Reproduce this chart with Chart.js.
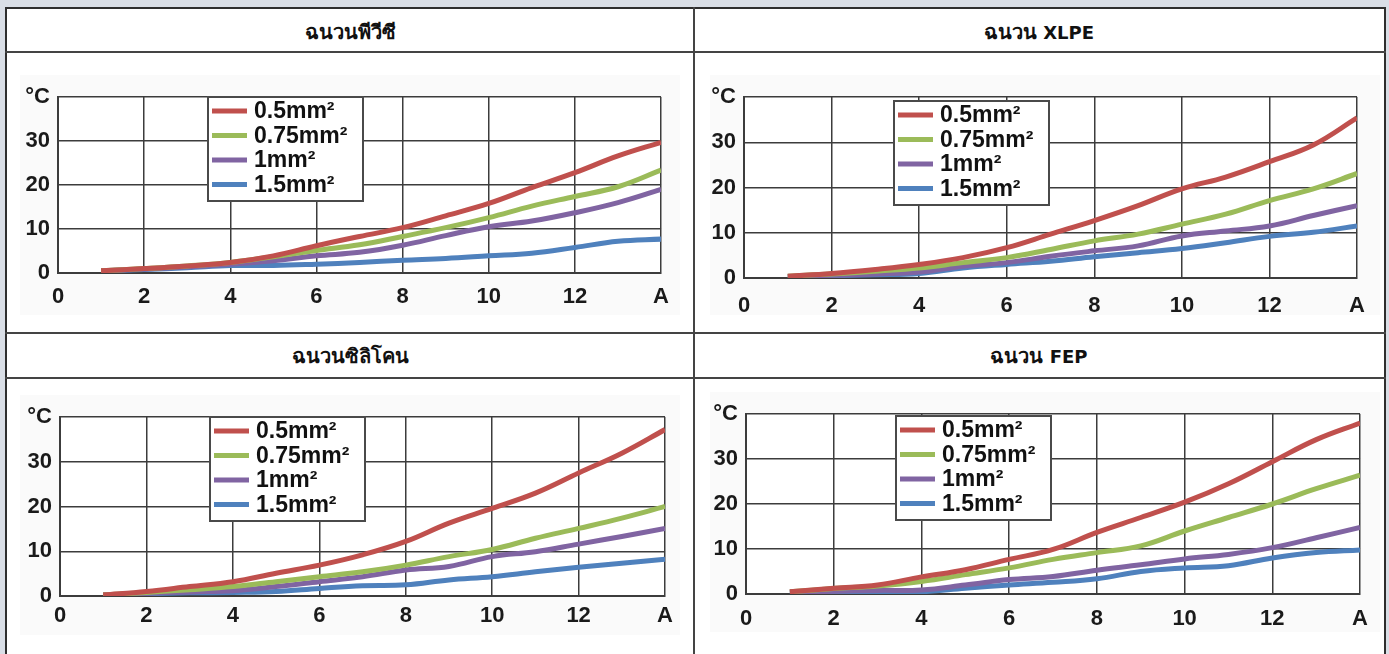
<!DOCTYPE html>
<html lang="th">
<head>
<meta charset="utf-8">
<title>อุณหภูมิที่เพิ่มขึ้นของสายไฟตามชนิดฉนวน</title>
<script src="https://cdn.jsdelivr.net/npm/chart.js@4.4.0/dist/chart.umd.min.js"></script>
<style>
  html, body { margin: 0; padding: 0; background: #d9dee6; width: 1389px; height: 654px; overflow: hidden; }
  .frame { position: absolute; left: 5px; top: 7px; width: 1381px; height: 720px; background: #fff;
           border: 2px solid #2e2e2e; box-sizing: border-box; }
  .vline { position: absolute; left: 693px; top: 7px; width: 2px; height: 720px; background: #444; }
  .hline { position: absolute; left: 5px; width: 1381px; height: 2px; background: #444; }
  .head { position: absolute; width: 688px; height: 30px; line-height: 30px; text-align: center;
          font: bold 18px "DejaVu Sans", sans-serif; color: #111; }
  .head .th { font-size: 20px; }
  canvas { position: absolute; background: #fafafa; }
</style>
</head>
<body>
<div class="frame"></div>
<div class="vline"></div>
<div class="hline" style="top:51px"></div>
<div class="hline" style="top:332px"></div>
<div class="hline" style="top:377px"></div>

<div class="head" style="left:6px; top:16px"><span class="th">ฉนวนพีวีซี</span></div>
<div class="head" style="left:695px; top:16px"><span class="th">ฉนวน</span> XLPE</div>
<div class="head" style="left:6px; top:340px"><span class="th">ฉนวนซิลิโคน</span></div>
<div class="head" style="left:695px; top:340px"><span class="th">ฉนวน</span> FEP</div>

<canvas id="pvc" width="660" height="240" style="left:20px; top:75px"></canvas>
<canvas id="xlpe" width="670" height="240" style="left:710px; top:75px"></canvas>
<canvas id="silicone" width="660" height="240" style="left:20px; top:395px"></canvas>
<canvas id="fep" width="670" height="240" style="left:710px; top:392px"></canvas>

<script>
// กระแส (A) และขนาดสาย
const current = [1, 2, 3, 4, 5, 6, 7, 8, 9, 10, 11, 12, 13, 14];
const sizes = ['0.5mm²', '0.75mm²', '1mm²', '1.5mm²'];
const colors = ['#c0504d', '#9bbb59', '#8064a2', '#4f81bd'];

// อุณหภูมิที่เพิ่มขึ้น (°C) แยกตามชนิดฉนวน, เรียงตามขนาดสาย
const pvc05  = [0.5, 1.0, 1.6, 2.4, 3.9, 6.2, 8.3, 10.3, 13.0, 15.8, 19.4, 22.8, 26.6, 29.7];
const pvc075 = [0.5, 1.0, 1.6, 2.4, 3.7, 5.1, 6.4, 8.3, 10.3, 12.6, 15.2, 17.4, 19.6, 23.4];
const pvc1   = [0.5, 0.9, 1.4, 2.0, 2.8, 3.9, 4.7, 6.3, 8.5, 10.5, 11.8, 13.7, 16.0, 19.0];
const pvc15  = [0.5, 0.8, 1.2, 1.7, 1.7, 2.0, 2.4, 2.9, 3.3, 3.9, 4.5, 5.8, 7.2, 7.7];

const xlpe05  = [0.4, 1.0, 1.9, 3.0, 4.5, 6.7, 9.7, 12.7, 16.0, 19.7, 22.3, 25.7, 29.4, 35.4];
const xlpe075 = [0.4, 0.9, 1.5, 2.2, 3.4, 4.5, 6.3, 8.2, 9.7, 11.9, 14.1, 17.1, 19.7, 23.1];
const xlpe1   = [0.3, 0.6, 0.9, 1.3, 2.6, 3.4, 4.8, 6.0, 7.1, 9.3, 10.4, 11.5, 13.8, 16.0];
const xlpe15  = [0.3, 0.5, 0.7, 1.0, 2.2, 3.0, 3.7, 4.7, 5.6, 6.5, 7.8, 9.2, 10.1, 11.5];

const sil05  = [0.2, 1.0, 2.1, 3.2, 5.1, 6.9, 9.2, 12.2, 16.3, 19.6, 23.0, 27.5, 31.9, 37.2];
const sil075 = [0.2, 0.8, 1.4, 2.1, 3.2, 4.3, 5.4, 6.9, 8.8, 10.4, 12.9, 15.1, 17.4, 20.0];
const sil1   = [0.2, 0.6, 0.9, 1.2, 2.1, 3.2, 4.3, 5.8, 6.6, 8.8, 9.9, 11.6, 13.3, 15.1];
const sil15  = [0.2, 0.5, 0.7, 0.8, 1.0, 1.7, 2.3, 2.5, 3.6, 4.3, 5.4, 6.4, 7.3, 8.2];

const fep05  = [0.5, 1.3, 2.0, 3.8, 5.4, 7.7, 9.9, 13.7, 17.0, 20.4, 24.5, 29.4, 34.3, 38.0];
const fep075 = [0.5, 1.2, 1.8, 2.8, 4.3, 5.8, 7.7, 9.2, 10.7, 14.0, 17.0, 20.0, 23.4, 26.4];
const fep1   = [0.4, 0.6, 0.8, 0.9, 2.0, 3.2, 3.9, 5.3, 6.5, 7.8, 8.8, 10.3, 12.5, 14.8];
const fep15  = [0.4, 0.5, 0.5, 0.5, 1.3, 2.0, 2.6, 3.4, 5.0, 5.8, 6.3, 8.0, 9.2, 9.8];

const axisFont = { family: '"Liberation Sans", Arial, sans-serif', size: 22, weight: 'bold' };

// พื้นที่กราฟสีขาว
const plotBackground = {
  id: 'plotBackground',
  beforeDraw(chart) {
    const { ctx, chartArea: a } = chart;
    ctx.save();
    ctx.fillStyle = '#fff';
    ctx.fillRect(a.left, a.top, a.right - a.left, a.bottom - a.top);
    ctx.restore();
  }
};

// กล่องคำอธิบายวางทับในพื้นที่กราฟ
const sizeLegend = {
  id: 'sizeLegend',
  afterDraw(chart, args, opts) {
    const { ctx, chartArea: a } = chart;
    const x = a.left + 150, y = a.top + opts.top;
    const w = 155, h = 104;
    ctx.save();
    ctx.fillStyle = '#fff';
    ctx.fillRect(x, y, w, h);
    ctx.strokeStyle = '#4a4a4a';
    ctx.lineWidth = 2;
    ctx.strokeRect(x, y, w, h);
    ctx.font = 'bold 23px "Liberation Sans", Arial, sans-serif';
    ctx.textBaseline = 'middle';
    chart.data.datasets.forEach((ds, i) => {
      const ry = y + 14 + i * 24.5;
      ctx.strokeStyle = ds.borderColor;
      ctx.lineWidth = 5;
      ctx.beginPath();
      ctx.moveTo(x + 4, ry);
      ctx.lineTo(x + 39, ry);
      ctx.stroke();
      ctx.fillStyle = '#111';
      ctx.fillText(ds.label, x + 46, ry + 1);
    });
    ctx.restore();
  }
};

function buildChart(id, temps, box) {
  return new Chart(document.getElementById(id), {
    type: 'line',
    data: {
      datasets: sizes.map((label, i) => ({
        label,
        data: current.map((a, j) => ({ x: a, y: temps[i][j] })),
        borderColor: colors[i],
        borderWidth: 5,
        pointRadius: 0,
        tension: 0.4,
        fill: false
      }))
    },
    options: {
      responsive: false,
      animation: false,
      layout: { padding: { top: 22, right: box.right, left: 0, bottom: 0 } },
      plugins: {
        legend: { display: false },
        tooltip: { enabled: false },
        sizeLegend: { top: box.legendTop }
      },
      scales: {
        x: {
          type: 'linear', min: 0, max: 14,
          ticks: { stepSize: 2, padding: box.xPad, color: '#1a1a1a', font: axisFont,
                   callback: v => (v === 14 ? 'A' : v) },
          grid: { color: '#3c3c3c', lineWidth: 1.5, drawTicks: false },
          border: { color: '#3c3c3c', width: 2 },
          afterFit: s => { s.height = box.xh; }
        },
        y: {
          min: 0, max: 40,
          ticks: { stepSize: 10, padding: 8, color: '#1a1a1a', font: axisFont,
                   callback: v => (v === 40 ? '°C' : v) },
          grid: { color: '#3c3c3c', lineWidth: 1.5, drawTicks: false },
          border: { color: '#3c3c3c', width: 2 },
          afterFit: s => { s.width = box.yw; }
        }
      }
    },
    plugins: [plotBackground, sizeLegend]
  });
}

buildChart('pvc', [pvc05, pvc075, pvc1, pvc15], { yw: 38, right: 11, xh: 42, xPad: 11, legendTop: 0 });
buildChart('xlpe', [xlpe05, xlpe075, xlpe1, xlpe15], { yw: 34, right: 17, xh: 37, xPad: 15, legendTop: 4 });
buildChart('silicone', [sil05, sil075, sil1, sil15], { yw: 40, right: 10, xh: 39, xPad: 7, legendTop: 0 });
buildChart('fep', [fep05, fep075, fep1, fep15], { yw: 36, right: 18, xh: 38, xPad: 12, legendTop: 2 });
</script>
</body>
</html>
